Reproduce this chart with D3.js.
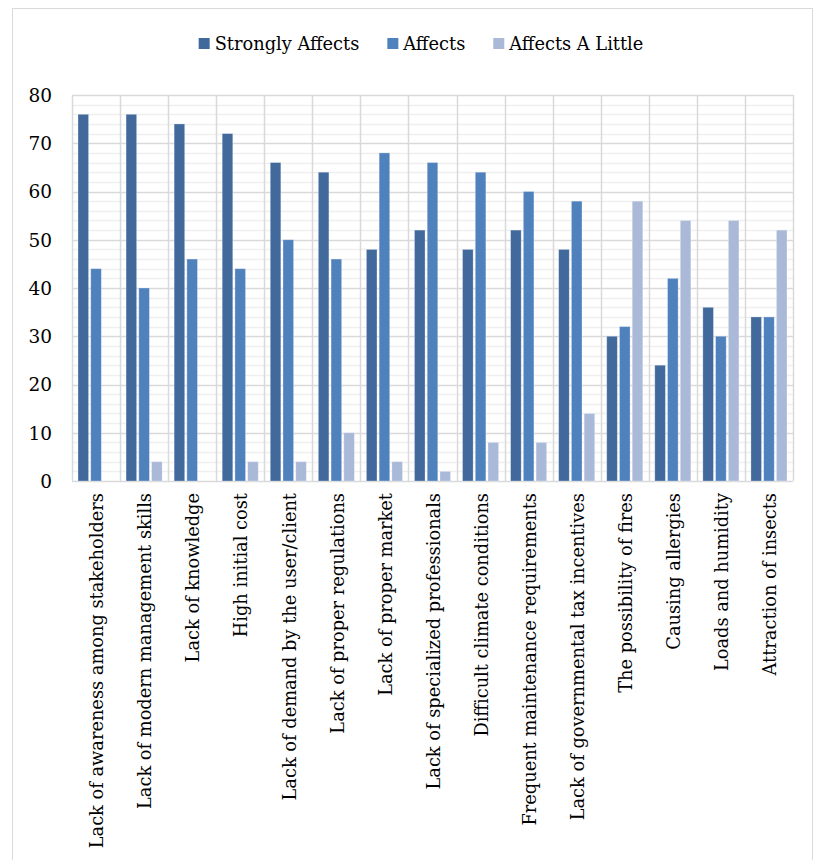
<!DOCTYPE html>
<html>
<head>
<meta charset="utf-8">
<script src="https://cdn.jsdelivr.net/npm/d3@7"></script>
<style>
  html, body { margin: 0; padding: 0; background: #fff; }
  svg { display: block; }
  text { font-family: "DejaVu Serif", "Liberation Serif", serif; fill: #000; }
</style>
</head>
<body>
<svg id="chart" width="813" height="860"></svg>
<script>
// Factors and how strongly each one affects adoption (percent of respondents)
const categories = [
  "Lack of awareness among stakeholders",
  "Lack of modern management skills",
  "Lack of knowledge",
  "High initial cost",
  "Lack of demand by the user/client",
  "Lack of proper regulations",
  "Lack of proper market",
  "Lack of specialized professionals",
  "Difficult climate conditions",
  "Frequent maintenance requirements",
  "Lack of governmental tax incentives",
  "The possibility of fires",
  "Causing allergies",
  "Loads and humidity",
  "Attraction of insects"
];
const seriesNames = ["Strongly Affects", "Affects", "Affects A Little"];
const stronglyAffects = [76, 76, 74, 72, 66, 64, 48, 52, 48, 52, 48, 30, 24, 36, 34];
const affects          = [44, 40, 46, 44, 50, 46, 68, 66, 64, 60, 58, 32, 42, 30, 34];
const affectsALittle   = [0, 4, 0, 4, 4, 10, 4, 2, 8, 8, 14, 58, 54, 54, 52];
const yTicks = [0, 10, 20, 30, 40, 50, 60, 70, 80];
const colors = ["#41699c", "#4f81bd", "#aab9d8"];

const seriesValues = [stronglyAffects, affects, affectsALittle];

const svg = d3.select("#chart");
const margin = { left: 72, top: 95, right: 813 - 793, bottom: 860 - 481 };
const W = 813, H = 860;
const plotW = W - margin.left - margin.right;
const plotH = H - margin.top - margin.bottom;

// outer chart frame
svg.append("rect")
  .attr("x", 12.5).attr("y", 8.5)
  .attr("width", 800).attr("height", 860)
  .attr("fill", "#fff").attr("stroke", "#d9d9d9").attr("stroke-width", 1);

const x0 = d3.scaleBand().domain(categories).range([0, plotW]).paddingInner(0).paddingOuter(0);
const x1 = d3.scaleBand().domain(seriesNames).range([6, x0.bandwidth() - 6]).paddingInner(0.17);
const y = d3.scaleLinear().domain([0, 80]).range([plotH, 0]);

const g = svg.append("g").attr("transform", `translate(${margin.left},${margin.top})`);

// minor gridlines every 2 units
const minor = d3.range(0, 81, 2).filter(v => v % 10 !== 0);
g.append("g").selectAll("line").data(minor).join("line")
  .attr("x1", 0).attr("x2", plotW)
  .attr("y1", d => Math.round(y(d)) + 0.5).attr("y2", d => Math.round(y(d)) + 0.5)
  .attr("stroke", "#efefef").attr("stroke-width", 1.5);

// major gridlines
g.append("g").selectAll("line").data(yTicks).join("line")
  .attr("x1", 0).attr("x2", plotW)
  .attr("y1", d => Math.round(y(d)) + 0.5).attr("y2", d => Math.round(y(d)) + 0.5)
  .attr("stroke", "#d9d9d9").attr("stroke-width", 1.5);

// vertical gridlines at category boundaries
const bounds = categories.map(c => x0(c)).concat([plotW]);
g.append("g").selectAll("line").data(bounds).join("line")
  .attr("x1", d => Math.round(d) + 0.5).attr("x2", d => Math.round(d) + 0.5)
  .attr("y1", 0).attr("y2", plotH)
  .attr("stroke", "#d9d9d9").attr("stroke-width", 1.5);

// bars
const groups = g.append("g").selectAll("g").data(categories).join("g")
  .attr("transform", c => `translate(${x0(c)},0)`);
groups.selectAll("rect")
  .data((c, i) => seriesNames.map((s, k) => ({ s, k, v: seriesValues[k][i] })))
  .join("rect")
  .filter(d => d.v > 0)
  .attr("x", d => x1(d.s))
  .attr("width", x1.bandwidth())
  .attr("y", d => y(d.v))
  .attr("height", d => y(0) - y(d.v))
  .attr("fill", d => colors[d.k])
  .attr("stroke", "#ffffff").attr("stroke-opacity", 0.35).attr("stroke-width", 0.8);

// y axis labels
const yAxis = d3.axisLeft(y).tickValues(yTicks).tickSize(0).tickPadding(20);
g.append("g").call(yAxis)
  .call(a => a.select(".domain").remove())
  .selectAll("text")
  .style("font-family", '"DejaVu Serif", serif')
  .style("font-size", "18.5px")
  .attr("dy", "0.35em");

// category labels, rotated
const xAxis = d3.axisBottom(x0).tickSize(0).tickPadding(0);
const xa = g.append("g").attr("transform", `translate(0,${plotH})`).call(xAxis);
xa.select(".domain").remove();
xa.selectAll("text")
  .style("font-family", '"DejaVu Serif", serif')
  .style("font-size", "17.8px")
  .attr("text-anchor", "end")
  .attr("transform", "translate(1,12) rotate(-90)")
  .attr("x", 0).attr("y", 0).attr("dy", "0.35em");

// legend
const legend = svg.append("g");
const items = legend.selectAll("g").data(seriesNames).join("g");
items.append("rect").attr("width", 11).attr("height", 11).attr("y", -6)
  .attr("fill", (d, i) => colors[i]);
items.append("text").attr("x", 16).attr("dy", "0.35em")
  .style("font-size", "17.8px").text(d => d);
let offs = 0;
const gap = 28;
items.each(function () {
  const w = this.getBBox().width;
  d3.select(this).attr("data-w", w);
});
const widths = items.nodes().map(n => +n.getAttribute("data-w"));
const total = d3.sum(widths) + gap * (widths.length - 1);
offs = 421 - total / 2;
items.attr("transform", (d, i) => {
  const t = `translate(${offs},44)`;
  offs += widths[i] + gap;
  return t;
});
</script>
</body>
</html>
